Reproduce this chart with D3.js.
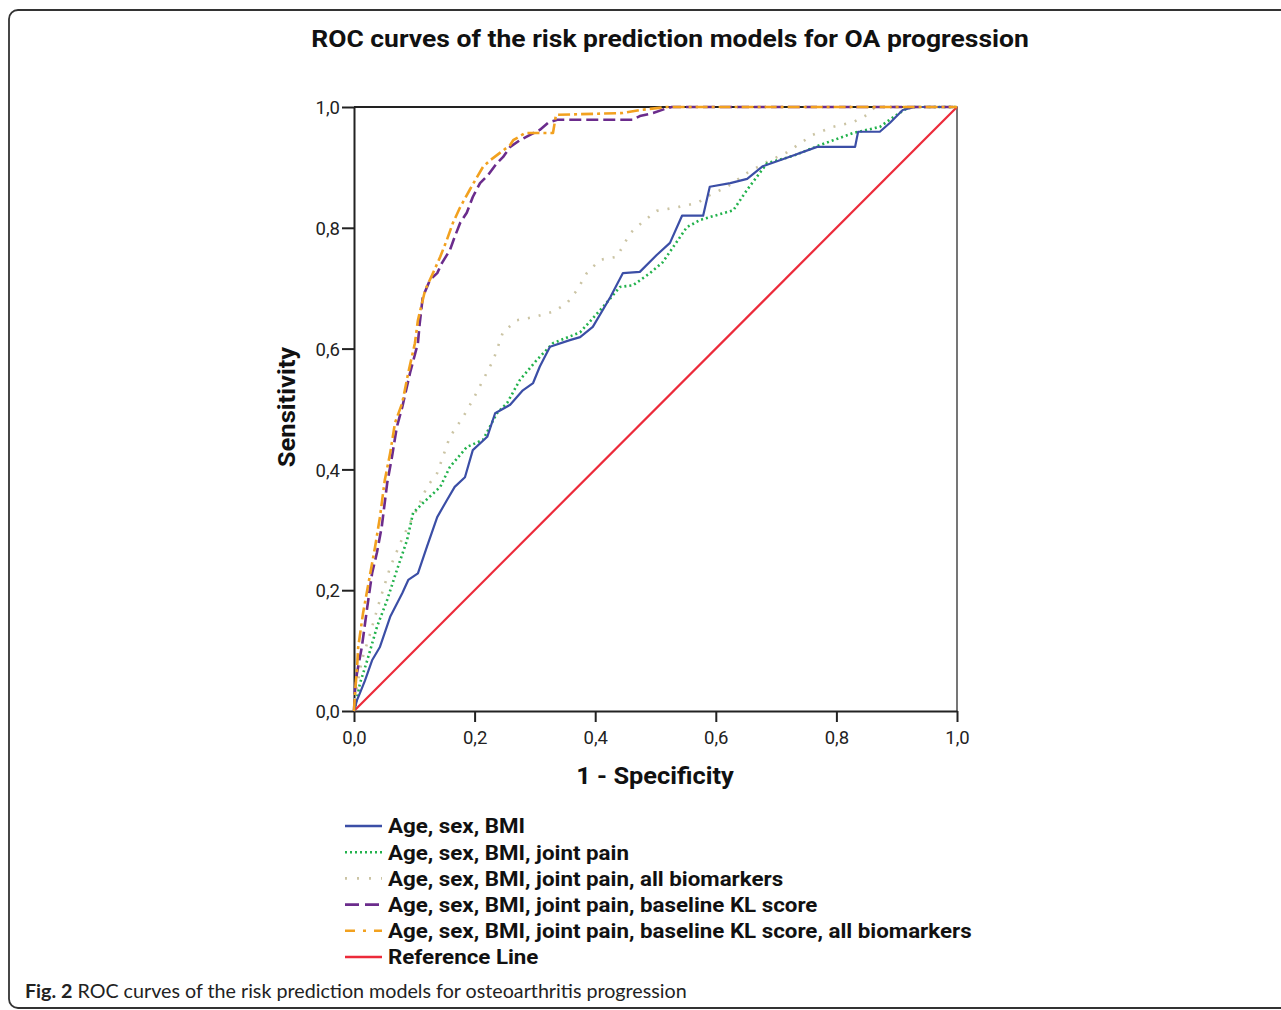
<!DOCTYPE html>
<html lang="en">
<head>
<meta charset="utf-8">
<title>ROC curves</title>
<style type="text/css">
    body { margin: 0; background: #fff; }
    svg { display: block; }
    .sans { font-family: Roboto, "Liberation Sans", Arial, sans-serif; }
</style>
</head>
<body>
<script src="https://d3js.org/d3.v7.min.js"></script>
<script>

    // ---- data (1 - specificity, sensitivity) ----
    var modelNames = [
        "Age, sex, BMI",
        "Age, sex, BMI, joint pain",
        "Age, sex, BMI, joint pain, all biomarkers",
        "Age, sex, BMI, joint pain, baseline KL score",
        "Age, sex, BMI, joint pain, baseline KL score, all biomarkers",
        "Reference Line"
    ];

    var ageSexBmi = [[0,0],[0.005,0.018],[0.01,0.03],[0.018,0.05],[0.03,0.084],[0.043,0.106],[0.06,0.156],
        [0.08,0.195],[0.09,0.217],[0.106,0.228],[0.121,0.272],[0.138,0.321],[0.154,0.349],[0.167,0.371],
        [0.184,0.387],[0.197,0.432],[0.221,0.454],[0.234,0.493],[0.259,0.507],[0.28,0.531],[0.297,0.543],
        [0.308,0.57],[0.325,0.603],[0.358,0.614],[0.375,0.619],[0.396,0.636],[0.425,0.685],[0.446,0.725],
        [0.474,0.727],[0.502,0.755],[0.524,0.775],[0.544,0.82],[0.579,0.82],[0.59,0.868],[0.624,0.874],
        [0.652,0.881],[0.678,0.902],[0.718,0.916],[0.768,0.934],[0.831,0.934],[0.836,0.959],[0.872,0.959],
        [0.889,0.974],[0.91,0.995],[0.93,1],[1,1]];

    var jointPain = [[0,0],[0.002,0.007],[0.01,0.046],[0.022,0.084],[0.038,0.139],[0.055,0.184],[0.071,0.233],
        [0.088,0.283],[0.098,0.328],[0.114,0.344],[0.143,0.371],[0.159,0.404],[0.187,0.437],[0.214,0.449],
        [0.237,0.493],[0.254,0.51],[0.275,0.548],[0.303,0.581],[0.33,0.609],[0.375,0.627],[0.413,0.669],
        [0.441,0.702],[0.463,0.705],[0.491,0.725],[0.512,0.743],[0.552,0.801],[0.574,0.813],[0.629,0.829],
        [0.652,0.863],[0.685,0.907],[0.728,0.919],[0.773,0.937],[0.828,0.957],[0.872,0.967],[0.894,0.983],
        [0.917,0.998],[0.93,1],[1,1]];

    var allBiomarkers = [[0,0],[0.003,0.03],[0.013,0.084],[0.027,0.129],[0.043,0.184],[0.06,0.238],[0.081,0.288],
        [0.104,0.333],[0.121,0.371],[0.138,0.394],[0.159,0.454],[0.181,0.487],[0.197,0.515],[0.214,0.548],
        [0.231,0.581],[0.247,0.627],[0.27,0.647],[0.297,0.652],[0.33,0.661],[0.353,0.675],[0.37,0.697],
        [0.386,0.725],[0.408,0.747],[0.436,0.752],[0.458,0.791],[0.479,0.81],[0.502,0.828],[0.536,0.834],
        [0.569,0.841],[0.59,0.854],[0.619,0.868],[0.652,0.891],[0.685,0.909],[0.718,0.925],[0.761,0.954],
        [0.794,0.967],[0.828,0.975],[0.851,0.987],[0.864,1],[1,1]];

    var baselineKL = [[0,0],[0.002,0.04],[0.005,0.063],[0.013,0.106],[0.022,0.172],[0.03,0.228],[0.038,0.262],
        [0.046,0.305],[0.055,0.377],[0.063,0.421],[0.071,0.47],[0.08,0.503],[0.093,0.56],[0.106,0.609],
        [0.109,0.642],[0.114,0.685],[0.126,0.714],[0.138,0.725],[0.146,0.742],[0.159,0.763],[0.167,0.785],
        [0.176,0.808],[0.187,0.825],[0.197,0.851],[0.209,0.874],[0.222,0.887],[0.237,0.907],[0.247,0.917],
        [0.259,0.934],[0.275,0.945],[0.292,0.954],[0.308,0.962],[0.322,0.974],[0.337,0.979],[0.463,0.979],
        [0.474,0.985],[0.496,0.99],[0.519,0.998],[0.527,1],[1,1]];

    var klBiomarkers = [[0,0],[0.002,0.035],[0.005,0.07],[0.007,0.106],[0.015,0.162],[0.027,0.228],[0.035,0.272],
        [0.043,0.321],[0.051,0.382],[0.06,0.427],[0.068,0.477],[0.08,0.51],[0.09,0.56],[0.101,0.609],
        [0.106,0.647],[0.118,0.697],[0.131,0.725],[0.143,0.752],[0.154,0.78],[0.164,0.808],[0.176,0.834],
        [0.192,0.863],[0.204,0.884],[0.214,0.901],[0.226,0.912],[0.242,0.924],[0.259,0.937],[0.264,0.945],
        [0.284,0.957],[0.33,0.957],[0.335,0.987],[0.446,0.99],[0.474,0.995],[0.519,1],[1,1]];

    var referenceLine = [[0,0],[1,1]];

    var tickValues = [0, 0.2, 0.4, 0.6, 0.8, 1.0];

    var series = [ageSexBmi, jointPain, allBiomarkers, baselineKL, klBiomarkers, referenceLine];
    var colors = ["#3b4ea6", "#22b24c", "#cbc4a4", "#6b2c8c", "#f2a11f", "#ec2a3a"];
    var dashes = ["none", "2,3", "2,9", "12,5", "12,4,3,4", "none"];
    var widths = [2.2, 2.6, 2.6, 2.6, 2.6, 2.2];
    var legendDashes = ["none", "2,3", "2,10", "14,6", "10,8,3,8", "none"];

    // ---- layout ----
    var W = 1281, H = 1010;
    var plot = {left: 354, top: 107, right: 957, bottom: 711};

    var svg = d3.select("body").append("svg")
        .attr("width", W)
        .attr("height", H);

    // squeeze / stretch a text horizontally so that it covers a given width
    function fitWidth(g, target) {
        var w = g.node().getBBox().width;
        return w > 0 ? target / w : 1;
    }

    // frame of the figure
    svg.append("rect")
        .attr("x", 9).attr("y", 10)
        .attr("width", 1300).attr("height", 998)
        .attr("rx", 9).attr("ry", 9)
        .attr("fill", "none")
        .attr("stroke", "#333")
        .attr("stroke-width", 1.8);

    var xScale = d3.scaleLinear().domain([0, 1]).range([plot.left, plot.right]);
    var yScale = d3.scaleLinear().domain([0, 1]).range([plot.bottom, plot.top]);

    var fmt = function(d){ return d3.format(".1f")(d).replace(".", ","); };

    // title
    var title = svg.append("text")
        .attr("class", "sans")
        .attr("text-anchor", "middle")
        .attr("font-weight", "bold")
        .attr("font-size", 23)
        .attr("fill", "#111")
        .text("ROC curves of the risk prediction models for OA progression");
    title.attr("transform", "translate(670,47) scale(" + fitWidth(title, 718) + ",1)");

    // top and right frame of the plot
    svg.append("path")
        .attr("d", "M" + plot.left + "," + plot.top + "H" + plot.right + "V" + plot.bottom)
        .attr("fill", "none")
        .attr("stroke", "#555")
        .attr("stroke-width", 1.6);
    svg.append("line")
        .attr("x1", plot.left).attr("x2", plot.right)
        .attr("y1", plot.top).attr("y2", plot.top)
        .attr("stroke", "#222").attr("stroke-width", 2);

    var xAxis = d3.axisBottom(xScale).tickValues(tickValues).tickFormat(fmt).tickSize(11).tickSizeOuter(0);
    var yAxis = d3.axisLeft(yScale).tickValues(tickValues).tickFormat(fmt).tickSize(12).tickSizeOuter(0);

    var xAxisGroup = svg.append("g")
        .attr("transform", "translate(0," + plot.bottom + ")")
        .call(xAxis);
    var yAxisGroup = svg.append("g")
        .attr("transform", "translate(" + plot.left + ",0)")
        .call(yAxis);

    [xAxisGroup, yAxisGroup].forEach(function(g){
        g.attr("font-family", null);
        g.selectAll("path, line").attr("stroke", "#222").attr("stroke-width", 2);
        g.selectAll("text")
            .attr("class", "sans")
            .attr("font-size", 18.5)
            .attr("fill", "#222");
    });
    xAxisGroup.selectAll("text").attr("dy", "1.0em");
    yAxisGroup.selectAll("text").attr("x", -14).attr("dy", "0.36em");

    // axis titles
    var xTitle = svg.append("text")
        .attr("class", "sans")
        .attr("text-anchor", "middle")
        .attr("font-weight", "bold")
        .attr("font-size", 23)
        .attr("fill", "#111")
        .text("1 - Specificity");
    xTitle.attr("transform", "translate(655,784) scale(" + fitWidth(xTitle, 158) + ",1)");

    var yTitle = svg.append("text")
        .attr("class", "sans")
        .attr("text-anchor", "middle")
        .attr("font-weight", "bold")
        .attr("font-size", 23)
        .attr("fill", "#111")
        .text("Sensitivity");
    yTitle.attr("transform", "translate(295,407) rotate(-90) scale(" + fitWidth(yTitle, 121) + ",1)");

    // curves
    var line = d3.line()
        .x(function(d){ return xScale(d[0]); })
        .y(function(d){ return yScale(d[1]); });

    var order = [5, 2, 1, 0, 3, 4];
    order.forEach(function(i){
        svg.append("path")
            .datum(series[i])
            .attr("d", line)
            .attr("fill", "none")
            .attr("stroke", colors[i])
            .attr("stroke-width", widths[i])
            .attr("stroke-dasharray", dashes[i])
            .attr("stroke-linejoin", "round");
    });

    // legend
    var legend = svg.append("g").attr("transform", "translate(345,826)");
    var legendText = legend.append("g").attr("class", "sans");
    modelNames.forEach(function(name, i){
        var y = i * 26.2;
        legend.append("line")
            .attr("x1", 0).attr("x2", 37)
            .attr("y1", y).attr("y2", y)
            .attr("stroke", colors[i])
            .attr("stroke-width", 2.6)
            .attr("stroke-dasharray", legendDashes[i]);
        legendText.append("text")
            .attr("x", 0).attr("y", y)
            .attr("dy", "0.36em")
            .attr("font-weight", "bold")
            .attr("font-size", 20.5)
            .attr("fill", "#111")
            .text(name);
    });
    legendText.attr("transform", "translate(43,0) scale(" + fitWidth(legendText, 584) + ",1)");

    // caption
    var caption = svg.append("text")
        .attr("x", 25).attr("y", 998)
        .attr("font-family", "Lato, 'Open Sans', sans-serif")
        .attr("font-size", 19.7)
        .attr("fill", "#222");
    caption.append("tspan").attr("font-weight", "bold").text("Fig. 2");
    caption.append("tspan").text(" ROC curves of the risk prediction models for osteoarthritis progression");

</script>
</body>
</html>
